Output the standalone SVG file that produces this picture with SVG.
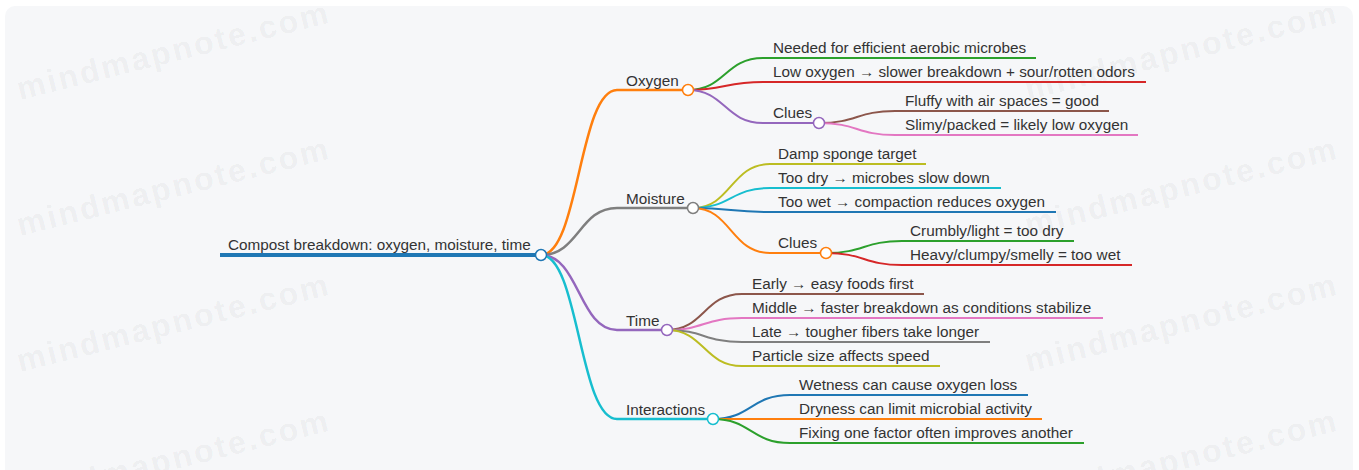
<svg xmlns="http://www.w3.org/2000/svg" width="1359" height="470" viewBox="0 0 1359 470">
<style>
.bg{fill:#f6f7f9}
.wm{font-family:"Liberation Sans",Arial,sans-serif;font-weight:bold;font-size:32px;letter-spacing:2.5px;fill:#000;fill-opacity:0.05}
.t{font-family:"Liberation Sans",Arial,sans-serif;font-size:15.3px;fill:#333}
.ln{fill:none;stroke-linecap:butt}
.c{fill:#fff;stroke-width:1.5}
</style>
<rect x="0" y="0" width="1359" height="470" fill="#fff"/>
<rect class="bg" x="5" y="6" width="1348" height="480" rx="10"/>
<g id="watermarks">
<text class="wm" transform="translate(20,100) rotate(-14)">mindmapnote.com</text>
<text class="wm" transform="translate(20,236) rotate(-14)">mindmapnote.com</text>
<text class="wm" transform="translate(20,372) rotate(-14)">mindmapnote.com</text>
<text class="wm" transform="translate(20,508) rotate(-14)">mindmapnote.com</text>
<text class="wm" transform="translate(1028,100) rotate(-14)">mindmapnote.com</text>
<text class="wm" transform="translate(1028,236) rotate(-14)">mindmapnote.com</text>
<text class="wm" transform="translate(1028,372) rotate(-14)">mindmapnote.com</text>
<text class="wm" transform="translate(1028,508) rotate(-14)">mindmapnote.com</text>
</g>
<g id="connectors" class="ln">
<path d="M541 255 C579 255 579 90 617 90" stroke="#ff7f0e" stroke-width="2.5"/>
<path d="M541 255 C579 255 579 208 617 208" stroke="#7f7f7f" stroke-width="2.5"/>
<path d="M541 255 C579 255 579 330 617 330" stroke="#9467bd" stroke-width="2.5"/>
<path d="M541 255 C579 255 579 419 617 419" stroke="#17becf" stroke-width="2.5"/>
<path d="M688 90 C725 90 725 58 763 58" stroke="#2ca02c" stroke-width="2"/>
<path d="M688 90 C725 90 725 82 763 82" stroke="#d62728" stroke-width="2"/>
<path d="M688 90 C725 90 725 123 763 123" stroke="#9467bd" stroke-width="2"/>
<path d="M819 123 C857 123 857 111 895 111" stroke="#8c564b" stroke-width="2"/>
<path d="M819 123 C857 123 857 135 895 135" stroke="#e377c2" stroke-width="2"/>
<path d="M693 208 C731 208 731 164 770 164" stroke="#bcbd22" stroke-width="2"/>
<path d="M693 208 C731 208 731 188 770 188" stroke="#17becf" stroke-width="2"/>
<path d="M693 208 C731 208 731 212 770 212" stroke="#1f77b4" stroke-width="2"/>
<path d="M693 208 C731 208 731 253 770 253" stroke="#ff7f0e" stroke-width="2"/>
<path d="M826 253 C864 253 864 241 902 241" stroke="#2ca02c" stroke-width="2"/>
<path d="M826 253 C864 253 864 265 902 265" stroke="#d62728" stroke-width="2"/>
<path d="M667 330 C704 330 704 294 742 294" stroke="#8c564b" stroke-width="2"/>
<path d="M667 330 C704 330 704 318 742 318" stroke="#e377c2" stroke-width="2"/>
<path d="M667 330 C704 330 704 342 742 342" stroke="#7f7f7f" stroke-width="2"/>
<path d="M667 330 C704 330 704 366 742 366" stroke="#bcbd22" stroke-width="2"/>
<path d="M713 419 C751 419 751 395 790 395" stroke="#1f77b4" stroke-width="2"/>
<path d="M713 419 C751 419 751 419 790 419" stroke="#ff7f0e" stroke-width="2"/>
<path d="M713 419 C751 419 751 443 790 443" stroke="#2ca02c" stroke-width="2"/>
</g>
<g id="root">
<line class="ln" x1="220" y1="255" x2="541" y2="255" stroke="#1f77b4" stroke-width="4"/>
<text class="t" x="228" y="250">Compost breakdown: oxygen, moisture, time</text>
<circle class="c" cx="541" cy="255" r="5.5" stroke="#1f77b4"/>
</g>
<g id="oxygen">
<line class="ln" x1="617" y1="90" x2="688" y2="90" stroke="#ff7f0e" stroke-width="2.5"/>
<text class="t" x="626" y="86">Oxygen</text>
<circle class="c" cx="688" cy="90" r="5.5" stroke="#ff7f0e"/>
</g>
<g id="oxygen-needed">
<line class="ln" x1="763" y1="58" x2="1036" y2="58" stroke="#2ca02c" stroke-width="2"/>
<text class="t" x="773" y="52.5">Needed for efficient aerobic microbes</text>
</g>
<g id="oxygen-low">
<line class="ln" x1="763" y1="82" x2="1146" y2="82" stroke="#d62728" stroke-width="2"/>
<text class="t" x="773" y="76.5">Low oxygen → slower breakdown + sour/rotten odors</text>
</g>
<g id="oxygen-clues">
<line class="ln" x1="763" y1="123" x2="819" y2="123" stroke="#9467bd" stroke-width="2"/>
<text class="t" x="773" y="117.5">Clues</text>
<circle class="c" cx="819" cy="123" r="5.5" stroke="#9467bd"/>
</g>
<g id="oxygen-clues-fluffy">
<line class="ln" x1="895" y1="111" x2="1109" y2="111" stroke="#8c564b" stroke-width="2"/>
<text class="t" x="905" y="105.5">Fluffy with air spaces = good</text>
</g>
<g id="oxygen-clues-slimy">
<line class="ln" x1="895" y1="135" x2="1138" y2="135" stroke="#e377c2" stroke-width="2"/>
<text class="t" x="905" y="129.5">Slimy/packed = likely low oxygen</text>
</g>
<g id="moisture">
<line class="ln" x1="617" y1="208" x2="693" y2="208" stroke="#7f7f7f" stroke-width="2.5"/>
<text class="t" x="626" y="204">Moisture</text>
<circle class="c" cx="693" cy="208" r="5.5" stroke="#7f7f7f"/>
</g>
<g id="moisture-damp">
<line class="ln" x1="770" y1="164" x2="926" y2="164" stroke="#bcbd22" stroke-width="2"/>
<text class="t" x="778" y="158.5">Damp sponge target</text>
</g>
<g id="moisture-dry">
<line class="ln" x1="770" y1="188" x2="1001" y2="188" stroke="#17becf" stroke-width="2"/>
<text class="t" x="778" y="182.5">Too dry → microbes slow down</text>
</g>
<g id="moisture-wet">
<line class="ln" x1="770" y1="212" x2="1056" y2="212" stroke="#1f77b4" stroke-width="2"/>
<text class="t" x="778" y="206.5">Too wet → compaction reduces oxygen</text>
</g>
<g id="moisture-clues">
<line class="ln" x1="770" y1="253" x2="826" y2="253" stroke="#ff7f0e" stroke-width="2"/>
<text class="t" x="778" y="247.5">Clues</text>
<circle class="c" cx="826" cy="253" r="5.5" stroke="#ff7f0e"/>
</g>
<g id="moisture-clues-crumbly">
<line class="ln" x1="902" y1="241" x2="1074" y2="241" stroke="#2ca02c" stroke-width="2"/>
<text class="t" x="910" y="235.5">Crumbly/light = too dry</text>
</g>
<g id="moisture-clues-heavy">
<line class="ln" x1="902" y1="265" x2="1132" y2="265" stroke="#d62728" stroke-width="2"/>
<text class="t" x="910" y="259.5">Heavy/clumpy/smelly = too wet</text>
</g>
<g id="time">
<line class="ln" x1="617" y1="330" x2="667" y2="330" stroke="#9467bd" stroke-width="2.5"/>
<text class="t" x="626" y="326">Time</text>
<circle class="c" cx="667" cy="330" r="5.5" stroke="#9467bd"/>
</g>
<g id="time-early">
<line class="ln" x1="742" y1="294" x2="924" y2="294" stroke="#8c564b" stroke-width="2"/>
<text class="t" x="752" y="288.5">Early → easy foods first</text>
</g>
<g id="time-middle">
<line class="ln" x1="742" y1="318" x2="1103" y2="318" stroke="#e377c2" stroke-width="2"/>
<text class="t" x="752" y="312.5">Middle → faster breakdown as conditions stabilize</text>
</g>
<g id="time-late">
<line class="ln" x1="742" y1="342" x2="990" y2="342" stroke="#7f7f7f" stroke-width="2"/>
<text class="t" x="752" y="336.5">Late → tougher fibers take longer</text>
</g>
<g id="time-particle">
<line class="ln" x1="742" y1="366" x2="940" y2="366" stroke="#bcbd22" stroke-width="2"/>
<text class="t" x="752" y="360.5">Particle size affects speed</text>
</g>
<g id="interactions">
<line class="ln" x1="617" y1="419" x2="713" y2="419" stroke="#17becf" stroke-width="2.5"/>
<text class="t" x="626" y="415">Interactions</text>
<circle class="c" cx="713" cy="419" r="5.5" stroke="#17becf"/>
</g>
<g id="interactions-wetness">
<line class="ln" x1="790" y1="395" x2="1028" y2="395" stroke="#1f77b4" stroke-width="2"/>
<text class="t" x="799" y="389.5">Wetness can cause oxygen loss</text>
</g>
<g id="interactions-dryness">
<line class="ln" x1="790" y1="419" x2="1042" y2="419" stroke="#ff7f0e" stroke-width="2"/>
<text class="t" x="799" y="413.5">Dryness can limit microbial activity</text>
</g>
<g id="interactions-fixing">
<line class="ln" x1="790" y1="443" x2="1084" y2="443" stroke="#2ca02c" stroke-width="2"/>
<text class="t" x="799" y="437.5">Fixing one factor often improves another</text>
</g>
</svg>
